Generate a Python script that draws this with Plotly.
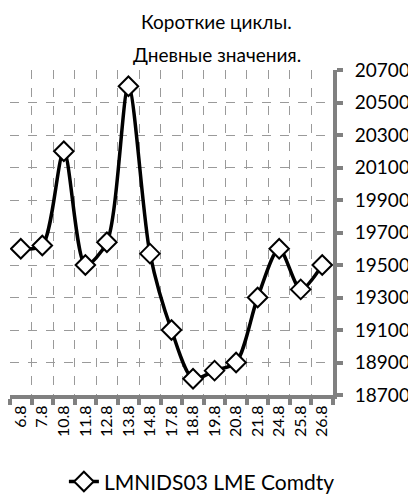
import plotly.graph_objects as go

# daily values
dates = ["6.8", "7.8", "10.8", "11.8", "12.8", "13.8", "14.8", "17.8",
         "18.8", "19.8", "20.8", "21.8", "24.8", "25.8", "26.8"]
prices = [19600, 19620, 20200, 19500, 19640, 20600, 19570, 19100,
          18800, 18850, 18900, 19300, 19600, 19350, 19500]
y_ticks = [18700, 18900, 19100, 19300, 19500, 19700, 19900, 20100, 20300, 20500, 20700]

fig = go.Figure()
fig.add_trace(go.Scatter(
    x=dates, y=prices, name="LMNIDS03 LME Comdty",
    mode="lines+markers",
    line=dict(color="black", width=3.5, shape="spline", smoothing=0.8),
    marker=dict(symbol="diamond", size=15, color="white",
                line=dict(color="black", width=2)),
))

# page body has an 8px margin, so the figure is a bit smaller and shifted
font = "Lato, Open Sans, sans-serif"
fig.update_layout(
    width=408, height=487,
    paper_bgcolor="white", plot_bgcolor="white",
    margin=dict(l=2, r=83, t=62, b=100, autoexpand=False),
    font=dict(family=font, size=18, color="black"),
    showlegend=True,
    legend=dict(orientation="h", xref="container", x=0.137, xanchor="left",
                yref="container", y=0.027, yanchor="middle",
                font=dict(size=21)),
)
fig.add_annotation(text="Короткие циклы.", xref="paper", yref="paper",
                   x=0.64, y=1, yshift=49, yanchor="middle",
                   showarrow=False, font=dict(size=19))
fig.add_annotation(text="Дневные значения.", xref="paper", yref="paper",
                   x=0.64, y=1, yshift=16, yanchor="middle",
                   showarrow=False, font=dict(size=19))
fig.update_xaxes(
    type="category", range=[-0.5, 14.5], tickson="boundaries",
    tickangle=-90, tickfont=dict(size=16), automargin=False,
    showline=True, linecolor="#808080", linewidth=4,
    ticks="outside", ticklen=6, tickwidth=4, tickcolor="#808080",
    showgrid=True, gridcolor="#9a9a9a", griddash="dash", gridwidth=1,
)
fig.update_yaxes(
    side="right", range=[18700, 20700], tickvals=y_ticks, tickformat="d",
    tickfont=dict(size=19), automargin=False, ticklabelstandoff=8,
    showline=True, linecolor="#808080", linewidth=4,
    ticks="outside", ticklen=6, tickwidth=4, tickcolor="#808080",
    showgrid=True, gridcolor="#9a9a9a", griddash="dash", gridwidth=1,
    zeroline=False,
)

fig.write_html("out.html")
